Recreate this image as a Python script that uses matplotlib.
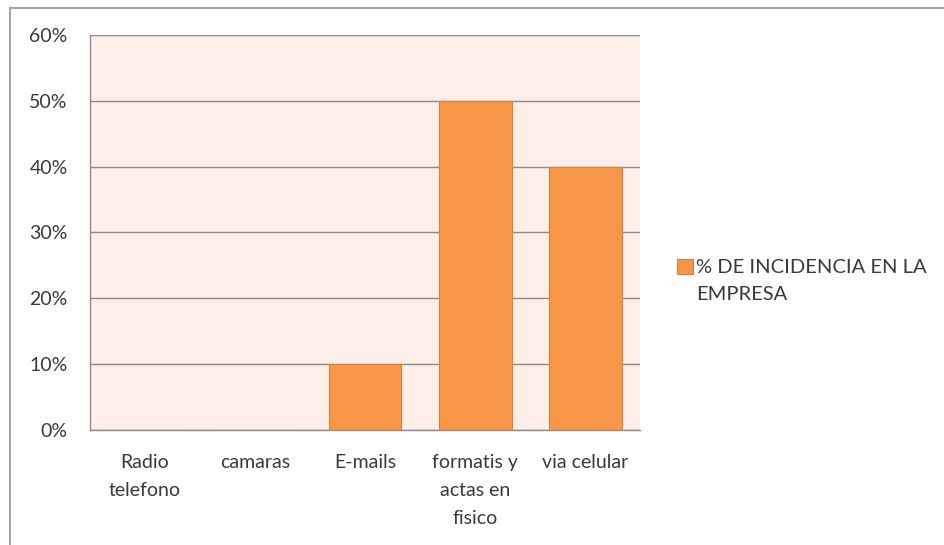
import matplotlib
matplotlib.use("Agg")
import matplotlib.pyplot as plt
from matplotlib.lines import Line2D
from matplotlib.ticker import FuncFormatter, MultipleLocator

categories = ["Radio\ntelefono", "camaras", "E-mails", "formatis y\nactas en\nfisico", "via celular"]
values = [0.0, 0.0, 0.10, 0.50, 0.40]
series_name = "% DE INCIDENCIA EN LA\nEMPRESA"

plt.rcParams["font.family"] = ["Lato", "DejaVu Sans"]

fig = plt.figure(figsize=(9.44, 5.45), dpi=100)
ax = fig.add_axes([0.0953, 0.211, 0.583, 0.725])

bar_color = "#F79646"
text_color = "#3A3A3A"
ax.set_facecolor("#FDEEE8")
x = range(len(categories))
ax.bar(x, values, width=0.66, color=bar_color, edgecolor="#D9803A",
       linewidth=0.8, zorder=3, label=series_name)

ax.set_xlim(-0.5, len(categories) - 0.5)
ax.set_ylim(0, 0.6)
ax.yaxis.set_major_locator(MultipleLocator(0.1))
ax.yaxis.set_major_formatter(FuncFormatter(lambda v, _: f"{v*100:.0f}%"))
ax.grid(axis="y", color="#8C8C8C", linewidth=1.0, zorder=1)
ax.set_axisbelow(True)

for side in ("top", "right"):
    ax.spines[side].set_visible(False)
for side in ("left", "bottom"):
    ax.spines[side].set_color("#8C8C8C")
    ax.spines[side].set_linewidth(1.0)

ax.set_xticks(list(x))
ax.set_xticklabels(categories, linespacing=1.8)
ax.tick_params(axis="both", length=0, labelsize=14, colors=text_color)
ax.tick_params(axis="x", pad=17)
ax.tick_params(axis="y", pad=16)

leg = fig.legend(loc="upper left", bbox_to_anchor=(0.709, 0.54), frameon=False,
                 fontsize=14.5, handlelength=0.8, handleheight=0.8,
                 handletextpad=0.15, borderaxespad=0)
for t in leg.get_texts():
    t.set_color(text_color)
    t.set_linespacing(1.7)
# keep the swatch level with the first line of the label
for h in leg.legend_handles:
    h.set_y(h.get_y() + 10)

# chart frame
fig.add_artist(Line2D([10/944, 1.0], [1 - 8/545, 1 - 8/545], transform=fig.transFigure,
                      color="#A6A6A6", linewidth=1.5))
fig.add_artist(Line2D([10/944, 10/944], [0.0, 1 - 8/545], transform=fig.transFigure,
                      color="#A6A6A6", linewidth=1.5))

fig.savefig("out.png", dpi=100)
